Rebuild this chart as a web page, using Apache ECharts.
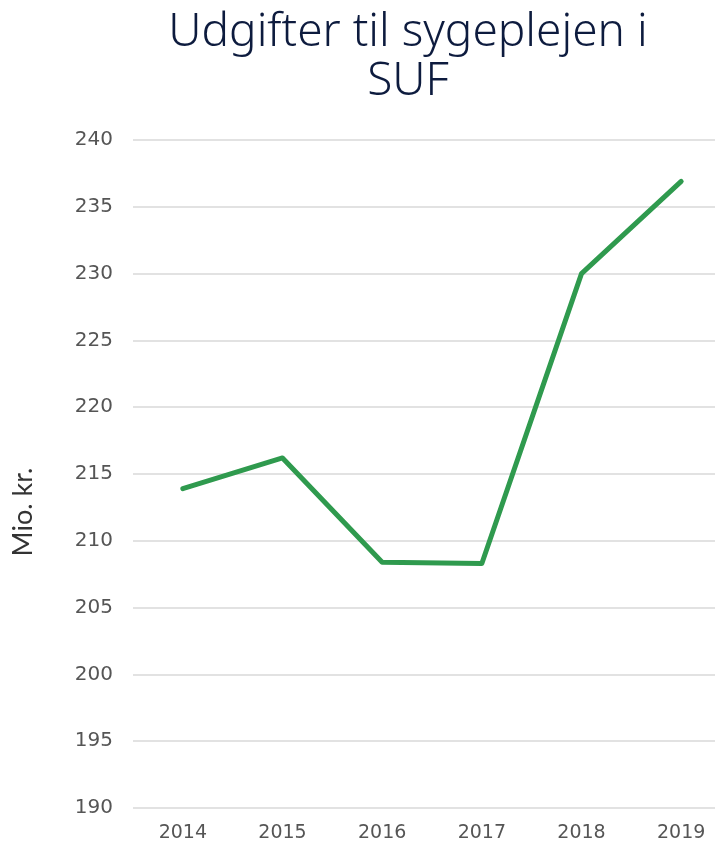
<!DOCTYPE html>
<html>
<head>
<meta charset="utf-8">
<script src="https://cdn.jsdelivr.net/npm/echarts@6/dist/echarts.min.js"></script>
<style>
  html, body { margin: 0; padding: 0; background: #fff; overflow: hidden; }
  /* plot runs past the right edge in the original, so the canvas is wider than the window */
  #root { width: 760px; height: 845px; }
</style>
</head>
<body>
<div id="root"></div>
<script>
// data
var years = ['2014', '2015', '2016', '2017', '2018', '2019'];
var udgifter = [213.9, 216.2, 208.4, 208.3, 230.0, 236.9];
var yMin = 190;
var yMax = 240;
var yStep = 5;

var chart = echarts.init(document.getElementById('root'));

var option = {
  animation: false,
  title: {
    text: 'Udgifter til sygeplejen i\nSUF',
    left: 408,
    top: 8,
    padding: 0,
    textAlign: 'center',
    textStyle: {
      color: '#0d1b3e',
      fontFamily: 'Noto Sans',
      fontWeight: 300,
      fontSize: 46,
      lineHeight: 49
    }
  },
  grid: {
    left: 133,
    top: 140,
    width: 598,
    height: 668
  },
  xAxis: {
    type: 'category',
    data: years,
    boundaryGap: true,
    axisLine: { show: false },
    axisTick: { show: false },
    axisLabel: {
      color: '#555',
      fontFamily: 'DejaVu Sans',
      fontSize: 19,
      margin: 16
    }
  },
  yAxis: {
    type: 'value',
    min: yMin,
    max: yMax,
    interval: yStep,
    name: 'Mio. kr.',
    nameLocation: 'middle',
    nameGap: 96,
    nameTextStyle: {
      color: '#333',
      fontFamily: 'Lato',
      fontSize: 27,
      padding: [0, 76, 0, 0]
    },
    axisLine: { show: false },
    axisTick: { show: false },
    axisLabel: {
      color: '#555',
      fontFamily: 'DejaVu Sans',
      fontSize: 20,
      margin: 20
    },
    splitLine: {
      lineStyle: { color: '#d9d9d9', width: 1.5 }
    }
  },
  series: [
    {
      type: 'line',
      data: udgifter,
      symbol: 'none',
      lineStyle: { color: '#2f9a4e', width: 5, cap: 'round', join: 'round' }
    }
  ]
};

chart.setOption(option);
</script>
</body>
</html>
